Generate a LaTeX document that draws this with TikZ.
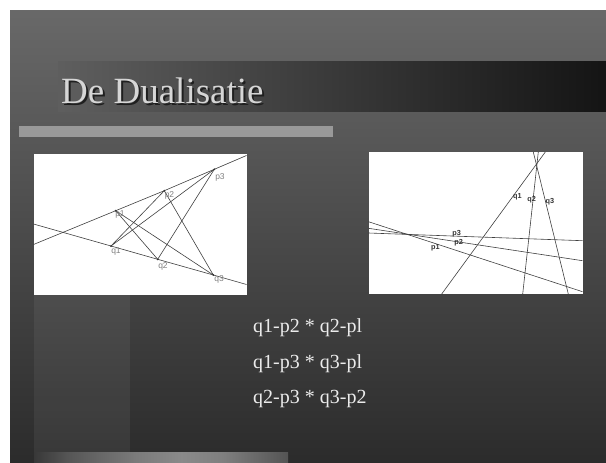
\documentclass[tikz,border=0pt]{standalone}
\usepackage{fontspec}
\setmainfont{Liberation Serif}
\newfontfamily\lblfont{Liberation Sans}
\pgfdeclarehorizontalshading{bottombar}{100bp}{color(0bp)=(black!78); color(25bp)=(black!78); color(32bp)=(black!66); color(45bp)=(black!52); color(54bp)=(black!46); color(62bp)=(black!50); color(75bp)=(black!67); color(100bp)=(black!67)}
\begin{document}
\begin{tikzpicture}[x=1pt,y=-1pt,
  dline/.style={draw=black!75,line width=0.6pt},
  ptdot/.style={fill=black!80},
  llab/.style={font=\lblfont\fontsize{8.5}{9}\selectfont,text=black!50,inner sep=0pt},
  rlab/.style={font=\lblfont\bfseries\fontsize{7.3}{8}\selectfont,text=black!80,inner sep=0pt},
  bodytext/.style={font=\fontsize{20}{24}\selectfont,text=black!8,anchor=base west,inner sep=0pt},
  titletext/.style={font=\fontsize{37}{40}\selectfont,anchor=base west,inner sep=0pt},
]
\useasboundingbox (0,0) rectangle (606,463);
\fill[white] (0,0) rectangle (606,463);
% slide background
\shade[top color=black!59, bottom color=black!83] (10,10) rectangle (606,463);
% lighter vertical strip and bottom bar
\fill[white,opacity=0.06] (34,295) rectangle (130,463);
\shade[shading=bottombar] (34,452) rectangle (288,463);
% title band
\shade[left color=black!63, middle color=black!76, right color=black!92] (58,61) rectangle (606,111);
\node[titletext,text=black!16] (title) at (61,103)
  {\rlap{\hspace{2pt}\raisebox{-2pt}{\color{black!88}De Dualisatie}}De Dualisatie};
% hatched bar
\fill[black!40] (19,126) rectangle (333,137);
% ---------- left diagram ----------
\fill[white] (33.5,153.5) rectangle (246.5,294.5);
\coordinate (lp1) at (115.7,210.7);
\coordinate (lp2) at (164.3,190.7);
\coordinate (lp3) at (214.3,169.3);
\coordinate (lq1) at (111,246);
\coordinate (lq2) at (157.7,259.3);
\coordinate (lq3) at (213.3,275);
\coordinate (lua) at (33.5,244.5);
\coordinate (lub) at (246.5,155.5);
\coordinate (lla) at (33.5,224);
\coordinate (llb) at (246.5,284.5);
\draw[dline] (lua) -- (lp1) -- (lp2) -- (lp3) -- (lub);
\draw[dline] (lla) -- (lq1) -- (lq2) -- (lq3) -- (llb);
\draw[dline] (lq1) -- (lp2);
\draw[dline] (lq1) -- (lp3);
\draw[dline] (lq2) -- (lp1);
\draw[dline] (lq2) -- (lp3);
\draw[dline] (lq3) -- (lp1);
\draw[dline] (lq3) -- (lp2);
\foreach \p in {lp1,lp2,lp3,lq1,lq2,lq3} \fill[ptdot] (\p) circle (1);
\node[llab] (llp1) at (120,214.5) {p1};
\node[llab] (llp2) at (169.5,195) {p2};
\node[llab] (llp3) at (220,177) {p3};
\node[llab] (llq1) at (116,251.5) {q1};
\node[llab] (llq2) at (163,266) {q2};
\node[llab] (llq3) at (219,279.5) {q3};
% ---------- right diagram ----------
\fill[white] (368.5,152) rectangle (582.5,294);
\coordinate (rq1t) at (545.3,152);
\coordinate (rq1b) at (441.7,294);
\coordinate (rq2t) at (538.3,152);
\coordinate (rq2b) at (522.7,294);
\coordinate (rq3t) at (533.3,152);
\coordinate (rq3b) at (568.3,294);
\coordinate (rp1l) at (368.5,221.7);
\coordinate (rp1r) at (582.5,291.7);
\coordinate (rp2l) at (368.5,228.3);
\coordinate (rp2r) at (582.5,260.7);
\coordinate (rp3l) at (368.5,233);
\coordinate (rp3r) at (582.5,240.7);
\draw[dline] (rq1t) -- (rq1b);
\draw[dline] (rq2t) -- (rq2b);
\draw[dline] (rq3t) -- (rq3b);
\draw[dline] (rp1l) -- (rp1r);
\draw[dline] (rp2l) -- (rp2r);
\draw[dline] (rp3l) -- (rp3r);
\node[rlab] (rlq1) at (517.5,197) {q1};
\node[rlab] (rlq2) at (531.7,200) {q2};
\node[rlab] (rlq3) at (550,201.5) {q3};
\node[rlab] (rlp3) at (456.7,234) {p3};
\node[rlab] (rlp2) at (458.7,242.5) {p2};
\node[rlab] (rlp1) at (435.3,247.7) {p1};
% ---------- text ----------
\node[bodytext] (t1) at (253,332.5) {q1-p2 * q2-pl};
\node[bodytext] (t2) at (253,368) {q1-p3 * q3-pl};
\node[bodytext] (t3) at (253,403.5) {q2-p3 * q3-p2};
\end{tikzpicture}
\end{document}
